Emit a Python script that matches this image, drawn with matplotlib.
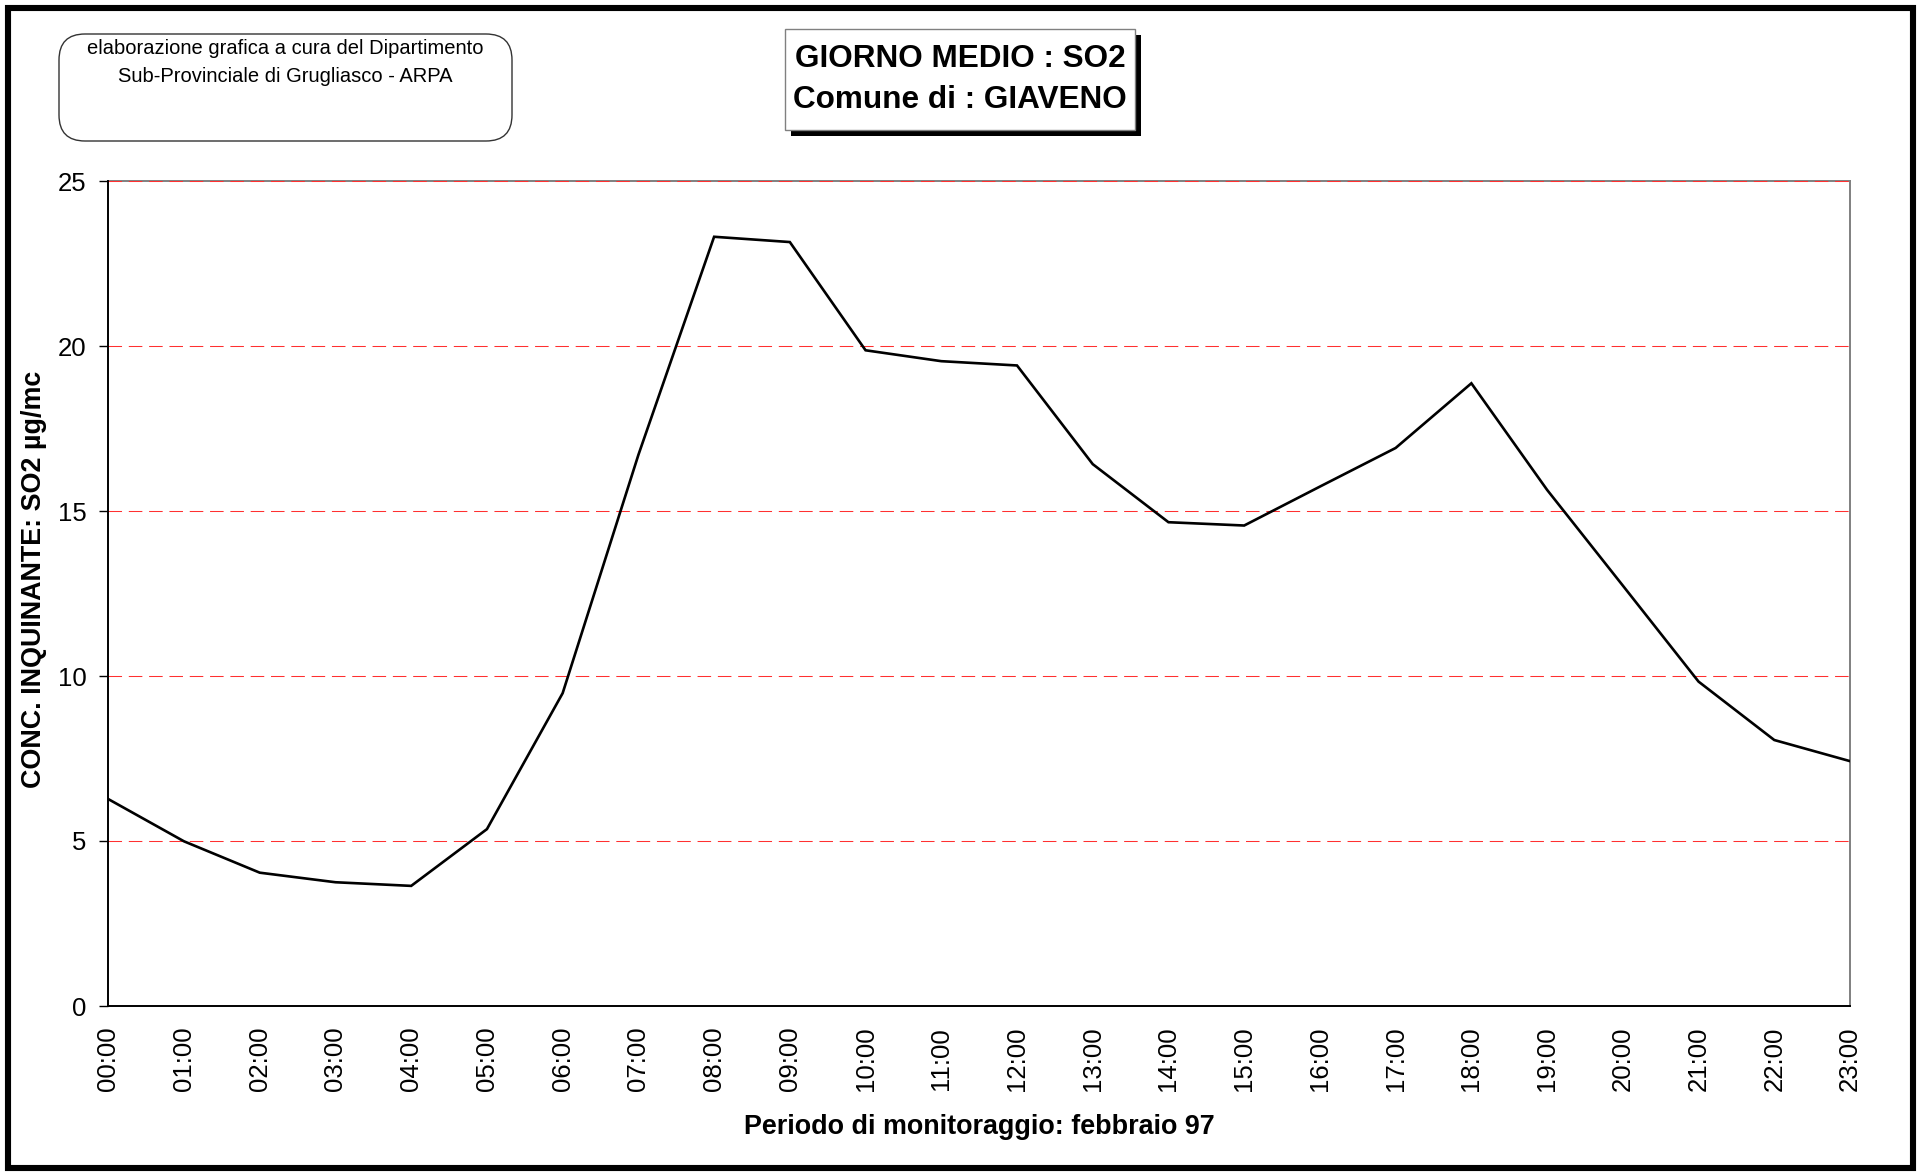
import numpy as np
import matplotlib
matplotlib.use("Agg")
import matplotlib.pyplot as plt
from matplotlib.patches import Rectangle, FancyBboxPatch

# ---- data ----
hours = ["00:00", "01:00", "02:00", "03:00", "04:00", "05:00", "06:00", "07:00",
         "08:00", "09:00", "10:00", "11:00", "12:00", "13:00", "14:00", "15:00",
         "16:00", "17:00", "18:00", "19:00", "20:00", "21:00", "22:00", "23:00"]
so2 = [6.27, 4.99, 4.04, 3.75, 3.64, 5.36, 9.48, 16.70,
       23.31, 23.15, 19.87, 19.54, 19.41, 16.42, 14.66, 14.56,
       15.74, 16.91, 18.87, 15.64, 12.74, 9.83, 8.06, 7.42]
y_ticks = [0, 5, 10, 15, 20, 25]

title_lines = ["GIORNO MEDIO : SO2", "Comune di : GIAVENO"]
credit_lines = ["elaborazione grafica a cura del Dipartimento",
                "Sub-Provinciale di Grugliasco - ARPA"]
ylabel = "CONC. INQUINANTE: SO2 µg/mc"
xlabel = "Periodo di monitoraggio: febbraio 97"

plt.rcParams['font.family'] = ['Liberation Sans', 'DejaVu Sans']

W, H = 1919, 1174
fig = plt.figure(figsize=(W / 100, H / 100), dpi=100)
fig.patch.set_facecolor('white')

def fx(px):
    return px / W

def fy(py):
    return 1 - py / H

ax = fig.add_axes([fx(108.3), fy(1006), fx(1850) - fx(108.3), fy(181) - fy(1006)])
x = np.arange(len(hours))
ax.plot(x, so2, color='black', lw=1.9, zorder=3, solid_joinstyle='miter')
ax.set_xlim(0, len(hours) - 1)
ax.set_ylim(y_ticks[0], y_ticks[-1])
ax.set_yticks(y_ticks)
ax.set_xticks(x)
ax.set_xticklabels(hours, rotation=90, fontsize=18.5)
ax.tick_params(axis='x', length=0, pad=15)
ax.tick_params(axis='y', length=6.5, width=1, direction='out', pad=9, labelsize=18.5)

for v in y_ticks[1:]:
    ax.axhline(v, color='#ff3030', lw=0.75, linestyle=(0, (13, 6.5)), zorder=1)

for s in ['left', 'bottom']:
    ax.spines[s].set_color('black')
    ax.spines[s].set_linewidth(1.4)
for s in ['top', 'right']:
    ax.spines[s].set_color('#808080')
    ax.spines[s].set_linewidth(1.4)
ax.spines['top'].set_zorder(0.5)

# outer frame
fig.patches.append(Rectangle((fx(7.5), fy(1168)), fx(1912.5) - fx(7.5), fy(8) - fy(1168),
                             transform=fig.transFigure, fill=False, ec='black', lw=4.4))

# credit box (rounded)
tr = fig.dpi_scale_trans
fig.patches.append(FancyBboxPatch((0.59, (H - 141) / 100), 4.53, 1.07,
                                  boxstyle="round,pad=0,rounding_size=0.26",
                                  transform=tr, fill=False, ec='#333333', lw=1.0))
fig.text(fx(285), fy(49), credit_lines[0], ha='center', va='center', fontsize=14.5)
fig.text(fx(285), fy(76), credit_lines[1], ha='center', va='center', fontsize=14.5)

# title box with shadow
fig.patches.append(Rectangle((7.85 + 0.06, (H - 130) / 100 - 0.06), 3.50, 1.01,
                             transform=tr, fc='black', ec='black', lw=0))
fig.patches.append(Rectangle((7.85, (H - 130) / 100), 3.50, 1.01,
                             transform=tr, fc='white', ec='#808080', lw=1.0))
fig.text(fx(960), fy(59), title_lines[0], ha='center', va='center',
         fontsize=22.7, fontweight='bold')
fig.text(fx(960), fy(100), title_lines[1], ha='center', va='center',
         fontsize=22.7, fontweight='bold')

fig.text(fx(34), fy(579), ylabel, rotation=90, ha='center', va='center',
         fontsize=19.4, fontweight='bold')
fig.text(fx(979), fy(1127), xlabel, ha='center', va='center',
         fontsize=19.4, fontweight='bold')

fig.savefig('out.png', dpi=100)
